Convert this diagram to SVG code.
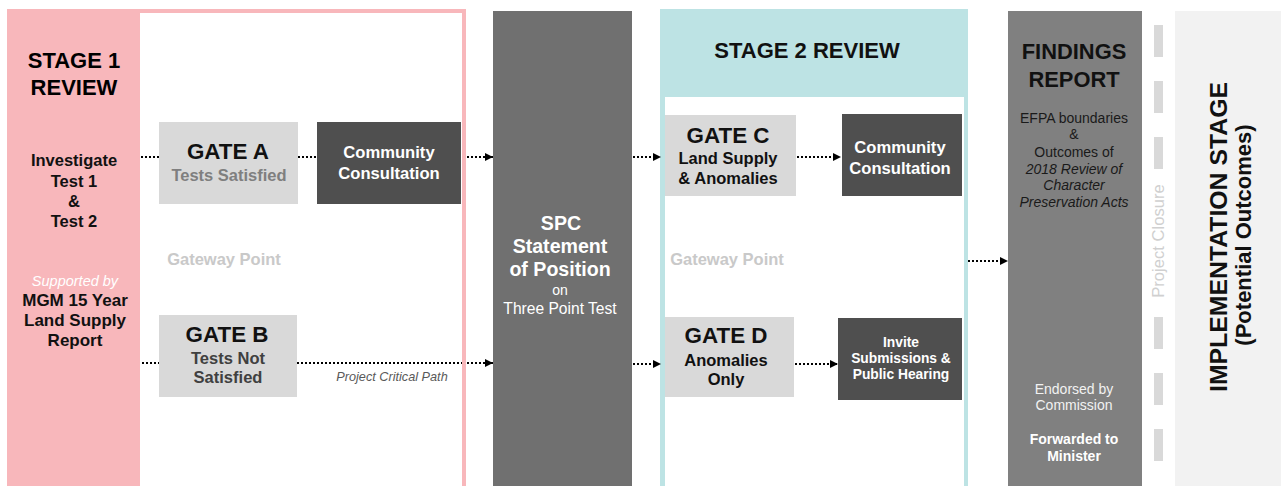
<svg xmlns="http://www.w3.org/2000/svg" width="1281" height="486" viewBox="0 0 1281 486">
  <style>
    text { font-family: "Liberation Sans", Arial, sans-serif; }
    .b { font-weight: bold; }
    .i { font-style: italic; }
    .gate { fill: #d9d9d9; }
    .dark { fill: #4f4f4f; }
    .conn { stroke: #000; stroke-width: 2; stroke-dasharray: 2 2; fill: none; }
    .dash { fill: #d9d9d9; }
  </style>
  <defs>
    <marker id="arrow" viewBox="0 0 8 8" refX="8" refY="4" markerWidth="8" markerHeight="8" markerUnits="userSpaceOnUse" orient="auto">
      <path d="M0,0 L8,4 L0,8 Z" fill="#000"/>
    </marker>
  </defs>
  <rect width="1281" height="486" fill="#fff"/>

  <!-- Stage 1 frame -->
  <g id="stage1">
    <rect x="7" y="9" width="459" height="477" fill="#f8b7bb"/>
    <rect x="140" y="13" width="322" height="473" fill="#fff"/>
    <g text-anchor="middle" class="b">
      <text x="74" y="68" font-size="22" fill="#000">STAGE 1</text>
      <text x="74" y="95" font-size="22" fill="#000">REVIEW</text>
      <text x="74" y="166" font-size="16.5" fill="#111">Investigate</text>
      <text x="74" y="187" font-size="16.5" fill="#111">Test 1</text>
      <text x="74" y="207" font-size="16.5" fill="#111">&amp;</text>
      <text x="74" y="227" font-size="16.5" fill="#111">Test 2</text>
    </g>
    <text x="75" y="286" font-size="14.5" fill="#fff" class="i" text-anchor="middle">Supported by</text>
    <g text-anchor="middle" class="b" font-size="17" fill="#111">
      <text x="75" y="306">MGM 15 Year</text>
      <text x="75" y="326">Land Supply</text>
      <text x="75" y="346">Report</text>
    </g>
    <text x="224" y="265" font-size="16.5" class="b" fill="#c9c9c9" text-anchor="middle">Gateway Point</text>
    <text x="392" y="381" font-size="12.7" class="i" fill="#595959" text-anchor="middle">Project Critical Path</text>
  </g>

  <g id="gateA">
    <rect class="gate" x="159" y="122" width="139" height="82"/>
    <text x="228" y="159" font-size="22.4" class="b" fill="#111" text-anchor="middle">GATE A</text>
    <text x="229" y="181" font-size="16.5" class="b" fill="#7f7f7f" text-anchor="middle">Tests Satisfied</text>
  </g>
  <g id="commA">
    <rect class="dark" x="317" y="122" width="144" height="82"/>
    <text x="389" y="158" font-size="16.6" class="b" fill="#fff" text-anchor="middle">Community</text>
    <text x="389" y="179" font-size="16.6" class="b" fill="#fff" text-anchor="middle">Consultation</text>
  </g>
  <g id="gateB">
    <rect class="gate" x="159" y="315" width="138" height="82"/>
    <text x="227" y="342" font-size="22.4" class="b" fill="#111" text-anchor="middle">GATE B</text>
    <text x="228" y="364" font-size="16.5" class="b" fill="#404040" text-anchor="middle">Tests Not</text>
    <text x="228" y="383" font-size="16.5" class="b" fill="#404040" text-anchor="middle">Satisfied</text>
  </g>

  <g id="spc">
    <rect x="493" y="11" width="139" height="475" fill="#707070"/>
    <g text-anchor="middle" fill="#fff">
      <text x="561" y="230" font-size="19.6" class="b">SPC</text>
      <text x="560" y="253" font-size="19.6" class="b">Statement</text>
      <text x="560" y="276" font-size="19.6" class="b">of Position</text>
      <text x="560" y="295" font-size="14">on</text>
      <text x="560" y="314" font-size="15.6">Three Point Test</text>
    </g>
  </g>

  <!-- Stage 2 frame -->
  <g id="stage2">
    <rect x="660" y="9" width="308" height="477" fill="#bde3e4"/>
    <rect x="665" y="97" width="299" height="389" fill="#fff"/>
    <text x="807" y="58" font-size="22" class="b" fill="#111" text-anchor="middle">STAGE 2 REVIEW</text>
    <text x="727" y="265" font-size="16.5" class="b" fill="#c9c9c9" text-anchor="middle">Gateway Point</text>
  </g>
  <g id="gateC">
    <rect class="gate" x="665" y="115" width="131" height="81"/>
    <text x="728" y="143" font-size="22.4" class="b" fill="#111" text-anchor="middle">GATE C</text>
    <text x="728" y="164" font-size="16.5" class="b" fill="#111" text-anchor="middle">Land Supply</text>
    <text x="728" y="184" font-size="16.5" class="b" fill="#111" text-anchor="middle">&amp; Anomalies</text>
  </g>
  <g id="commC">
    <rect class="dark" x="842" y="114" width="120" height="82"/>
    <text x="900" y="153" font-size="16.6" class="b" fill="#fff" text-anchor="middle">Community</text>
    <text x="900" y="174" font-size="16.6" class="b" fill="#fff" text-anchor="middle">Consultation</text>
  </g>
  <g id="gateD">
    <rect class="gate" x="665" y="317" width="129" height="80"/>
    <text x="726" y="343" font-size="22.4" class="b" fill="#111" text-anchor="middle">GATE D</text>
    <text x="726" y="366" font-size="16.5" class="b" fill="#111" text-anchor="middle">Anomalies</text>
    <text x="726" y="385" font-size="16.5" class="b" fill="#111" text-anchor="middle">Only</text>
  </g>
  <g id="invite">
    <rect class="dark" x="838" y="318" width="124" height="82"/>
    <text x="901" y="347" font-size="13.8" class="b" fill="#fff" text-anchor="middle">Invite</text>
    <text x="901" y="363" font-size="13.8" class="b" fill="#fff" text-anchor="middle">Submissions &amp;</text>
    <text x="901" y="379" font-size="13.8" class="b" fill="#fff" text-anchor="middle">Public Hearing</text>
  </g>

  <g id="findings">
    <rect x="1008" y="11" width="134" height="475" fill="#808080"/>
    <g text-anchor="middle">
      <text x="1074" y="59" font-size="21.9" class="b" fill="#111">FINDINGS</text>
      <text x="1074" y="87" font-size="21.9" class="b" fill="#111">REPORT</text>
      <g font-size="14" fill="#1a1a1a">
        <text x="1074" y="123">EFPA boundaries</text>
        <text x="1074" y="139">&amp;</text>
        <text x="1074" y="157">Outcomes of</text>
        <text x="1074" y="174" class="i">2018 Review of</text>
        <text x="1074" y="190" class="i">Character</text>
        <text x="1074" y="207" class="i">Preservation Acts</text>
      </g>
      <text x="1074" y="394" font-size="14" fill="#f2f2f2">Endorsed by</text>
      <text x="1074" y="410" font-size="14" fill="#f2f2f2">Commission</text>
      <text x="1074" y="444" font-size="14" class="b" fill="#fff">Forwarded to</text>
      <text x="1074" y="461" font-size="14" class="b" fill="#fff">Minister</text>
    </g>
  </g>

  <g id="closure">
    <rect class="dash" x="1154" y="25" width="9" height="32"/>
    <rect class="dash" x="1154" y="81" width="9" height="32"/>
    <rect class="dash" x="1154" y="137" width="9" height="32"/>
    <rect class="dash" x="1154" y="317" width="9" height="32"/>
    <rect class="dash" x="1154" y="373" width="9" height="32"/>
    <rect class="dash" x="1154" y="429" width="9" height="32"/>
    <text transform="translate(1164,241) rotate(-90)" font-size="16.6" fill="#d0d0d0" text-anchor="middle">Project Closure</text>
  </g>

  <g id="implementation">
    <rect x="1175" y="11" width="106" height="475" fill="#f2f2f2"/>
    <text transform="translate(1227,237) rotate(-90)" font-size="24.8" class="b" fill="#111" text-anchor="middle">IMPLEMENTATION STAGE</text>
    <text transform="translate(1251,235) rotate(-90)" font-size="22" class="b" fill="#111" text-anchor="middle">(Potential Outcomes)</text>
  </g>

  <!-- dotted connectors -->
  <g id="connectors">
    <path class="conn" d="M141,157 H159"/>
    <path class="conn" d="M298,157 H317"/>
    <path class="conn" d="M467,157 H493" marker-end="url(#arrow)"/>
    <path class="conn" d="M142,363 H159"/>
    <path class="conn" d="M297,363 H462"/>
    <path class="conn" d="M467,363 H493" marker-end="url(#arrow)"/>
    <path class="conn" d="M633,157 H661" marker-end="url(#arrow)"/>
    <path class="conn" d="M633,364 H661" marker-end="url(#arrow)"/>
    <path class="conn" d="M797,157 H841" marker-end="url(#arrow)"/>
    <path class="conn" d="M795,364 H838" marker-end="url(#arrow)"/>
    <path class="conn" d="M968,261 H1008" marker-end="url(#arrow)"/>
  </g>
</svg>
